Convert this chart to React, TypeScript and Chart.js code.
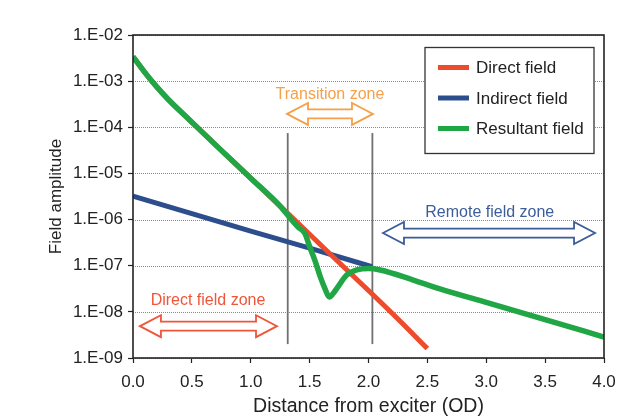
import React, { useEffect, useRef } from 'react';
import { Chart, registerables } from 'chart.js';

Chart.register(...registerables);

// ---- Data ----
const directX = [0, 0.1, 0.2, 0.3, 0.5, 0.75, 1.0, 1.25, 1.5, 1.75, 2.0, 2.25, 2.5];
const directY = [3.39e-3, 1.55e-3, 7.6e-4, 4.0e-4, 1.29e-4, 3.16e-5, 7.9e-6, 1.95e-6, 4.8e-7, 1.17e-7, 2.9e-8, 7.0e-9, 1.6e-9];

const indirectX = [0, 0.5, 1.0, 1.5, 2.03];
const indirectY = [3.2e-6, 1.35e-6, 5.6e-7, 2.4e-7, 9.5e-8];

const resultantX = [0, 0.1, 0.2, 0.3, 0.5, 0.75, 1.0, 1.25, 1.342, 1.40, 1.46, 1.5, 1.55, 1.59, 1.63, 1.667, 1.7, 1.73, 1.815, 1.9, 2.0, 2.1, 2.38, 2.6, 3.0, 3.5, 4.0];
const resultantY = [3.39e-3, 1.55e-3, 7.6e-4, 4.0e-4, 1.29e-4, 3.16e-5, 7.9e-6, 1.95e-6, 1.02e-6, 7.0e-7, 5.0e-7, 2.6e-7, 1.2e-7, 5.8e-8, 3.2e-8, 2.1e-8, 2.5e-8, 3.2e-8, 6.3e-8, 8.1e-8, 8.7e-8, 8.1e-8, 4.9e-8, 3.2e-8, 1.6e-8, 6.8e-9, 2.85e-9];

const seriesNames = ['Direct field', 'Indirect field', 'Resultant field'];
const seriesColors = ['#EE4A2C', '#2C4E8D', '#21A646'];

const yTickValues = [1e-9, 1e-8, 1e-7, 1e-6, 1e-5, 1e-4, 1e-3, 1e-2];
const yTickLabels = ['1.E-09', '1.E-08', '1.E-07', '1.E-06', '1.E-05', '1.E-04', '1.E-03', '1.E-02'];
const xTickLabels = ['0.0', '0.5', '1.0', '1.5', '2.0', '2.5', '3.0', '3.5', '4.0'];

// zone annotations (data coordinates)
const zoneTexts = ['Transition zone', 'Remote field zone', 'Direct field zone'];
const zoneTextX = [1.673, 3.03, 0.637];
const zoneTextY = [5.0e-4, 1.45e-6, 1.72e-8];
const zoneColors = ['#F5A04A', '#3B5D9A', '#F0553A'];
const zoneArrowX0 = [1.308, 2.123, 0.059];
const zoneArrowX1 = [2.038, 3.924, 1.223];
const zoneArrowY = [1.95e-4, 5.1e-7, 4.9e-9];

const boundaryX = [1.314, 2.033];
const boundaryTop = 7.5e-5;
const boundaryBottom = 2.0e-9;

const FONT = '"Liberation Sans", Arial, Helvetica, sans-serif';
const INK = '#222222';

function toPoints(xs: number[], ys: number[]) {
  return xs.map((x, i) => ({ x, y: ys[i] }));
}

function drawDoubleArrow(ctx: CanvasRenderingContext2D, x0: number, x1: number, y: number, color: string) {
  const sh = 4.5; // shaft half height
  const hh = 11; // head half height
  const hl = 21; // head length
  ctx.save();
  ctx.beginPath();
  ctx.moveTo(x0, y);
  ctx.lineTo(x0 + hl, y - hh);
  ctx.lineTo(x0 + hl, y - sh);
  ctx.lineTo(x1 - hl, y - sh);
  ctx.lineTo(x1 - hl, y - hh);
  ctx.lineTo(x1, y);
  ctx.lineTo(x1 - hl, y + hh);
  ctx.lineTo(x1 - hl, y + sh);
  ctx.lineTo(x0 + hl, y + sh);
  ctx.lineTo(x0 + hl, y + hh);
  ctx.closePath();
  ctx.fillStyle = '#ffffff';
  ctx.fill();
  ctx.lineWidth = 1.8;
  ctx.lineJoin = 'miter';
  ctx.strokeStyle = color;
  ctx.stroke();
  ctx.restore();
}

const decorPlugin = {
  id: 'decor',
  beforeDatasetsDraw(chart: any) {
    const { ctx, chartArea, scales } = chart;
    const xs = scales.x;
    const ys = scales.y;
    ctx.save();
    // dotted horizontal grid lines
    ctx.strokeStyle = '#8a8a8a';
    ctx.lineWidth = 1;
    ctx.setLineDash([1, 1]);
    yTickValues.forEach((v) => {
      const py = Math.round(ys.getPixelForValue(v)) + 0.5;
      ctx.beginPath();
      ctx.moveTo(chartArea.left, py);
      ctx.lineTo(chartArea.right, py);
      ctx.stroke();
    });
    ctx.setLineDash([]);
    // zone boundary lines
    ctx.strokeStyle = '#707070';
    ctx.lineWidth = 1.8;
    boundaryX.forEach((bx) => {
      const px = xs.getPixelForValue(bx);
      ctx.beginPath();
      ctx.moveTo(px, ys.getPixelForValue(boundaryTop));
      ctx.lineTo(px, ys.getPixelForValue(boundaryBottom));
      ctx.stroke();
    });
    ctx.restore();
  },
  afterDatasetsDraw(chart: any) {
    const { ctx, chartArea, scales } = chart;
    const xs = scales.x;
    const ys = scales.y;
    ctx.save();
    // zone arrows & texts
    zoneTexts.forEach((t, i) => {
      drawDoubleArrow(
        ctx,
        xs.getPixelForValue(zoneArrowX0[i]),
        xs.getPixelForValue(zoneArrowX1[i]),
        ys.getPixelForValue(zoneArrowY[i]),
        zoneColors[i]
      );
      ctx.fillStyle = zoneColors[i];
      ctx.font = `16px ${FONT}`;
      ctx.textAlign = 'center';
      ctx.textBaseline = 'middle';
      ctx.fillText(t, xs.getPixelForValue(zoneTextX[i]), ys.getPixelForValue(zoneTextY[i]));
    });

    // legend box
    const lx0 = chartArea.right - 179;
    const ly0 = chartArea.top + 12.5;
    const lw = 169;
    const lh = 106;
    ctx.fillStyle = '#ffffff';
    ctx.fillRect(lx0, ly0, lw, lh);
    ctx.strokeStyle = '#333333';
    ctx.lineWidth = 1.3;
    ctx.strokeRect(lx0, ly0, lw, lh);
    seriesNames.forEach((name, i) => {
      const ry = ly0 + 20 + i * 30.5;
      ctx.strokeStyle = seriesColors[i];
      ctx.lineWidth = 5;
      ctx.lineCap = 'butt';
      ctx.beginPath();
      ctx.moveTo(lx0 + 13, ry);
      ctx.lineTo(lx0 + 44, ry);
      ctx.stroke();
      ctx.fillStyle = INK;
      ctx.font = `17px ${FONT}`;
      ctx.textAlign = 'left';
      ctx.textBaseline = 'middle';
      ctx.fillText(name, lx0 + 51, ry + 1);
    });
    ctx.restore();
  },
  afterDraw(chart: any) {
    const { ctx, chartArea } = chart;
    ctx.save();
    ctx.strokeStyle = INK;
    ctx.lineWidth = 1.6;
    ctx.strokeRect(chartArea.left, chartArea.top, chartArea.right - chartArea.left, chartArea.bottom - chartArea.top);
    ctx.restore();
  },
};

export default function App() {
  const ref = useRef<HTMLCanvasElement | null>(null);
  useEffect(() => {
    if (!ref.current) return;
    Chart.defaults.font.family = FONT;
    const chart = new Chart(ref.current, {
      type: 'line',
      data: {
        datasets: [
          {
            label: seriesNames[0],
            data: toPoints(directX, directY),
            borderColor: seriesColors[0],
            borderWidth: 5,
            pointRadius: 0,
            cubicInterpolationMode: 'monotone',
            order: 1,
          },
          {
            label: seriesNames[1],
            data: toPoints(indirectX, indirectY),
            borderColor: seriesColors[1],
            borderWidth: 5,
            pointRadius: 0,
            tension: 0,
            order: 2,
          },
          {
            label: seriesNames[2],
            data: toPoints(resultantX, resultantY),
            borderColor: seriesColors[2],
            borderWidth: 5.5,
            pointRadius: 0,
            cubicInterpolationMode: 'monotone',
            order: 0,
          },
        ],
      },
      options: {
        animation: false,
        responsive: false,
        layout: { padding: { left: 0, right: 21, top: 35, bottom: 0 } },
        plugins: { legend: { display: false }, tooltip: { enabled: false } },
        scales: {
          x: {
            type: 'linear',
            min: 0,
            max: 4,
            afterFit: (s: any) => {
              s.height = 60;
            },
            afterBuildTicks: (s: any) => {
              s.ticks = xTickLabels.map((l) => ({ value: parseFloat(l) }));
            },
            ticks: {
              color: INK,
              font: { size: 17 },
              padding: 9,
              maxRotation: 0,
              callback: (v: any) => {
                const i = xTickLabels.findIndex((l) => Math.abs(parseFloat(l) - v) < 1e-9);
                return i >= 0 ? xTickLabels[i] : '';
              },
            },
            grid: {
              display: true,
              drawOnChartArea: false,
              drawTicks: true,
              tickLength: 5,
              tickColor: INK,
              tickWidth: 1.2,
              color: INK,
            },
            border: { display: false },
            title: {
              display: true,
              text: 'Distance from exciter (OD)',
              color: INK,
              font: { size: 19.5 },
              padding: { top: 0, bottom: 0 },
            },
          },
          y: {
            type: 'logarithmic',
            min: 1e-9,
            max: 1e-2,
            afterFit: (s: any) => {
              s.width = 133;
            },
            afterBuildTicks: (s: any) => {
              s.ticks = yTickValues.map((v) => ({ value: v }));
            },
            ticks: {
              color: INK,
              font: { size: 17 },
              padding: 5,
              autoSkip: false,
              callback: (v: any) => {
                const i = Math.round(Math.log10(v)) + 9;
                return yTickLabels[i] ?? '';
              },
            },
            grid: {
              display: true,
              drawOnChartArea: false,
              drawTicks: true,
              tickLength: 5,
              tickColor: INK,
              tickWidth: 1.2,
              color: INK,
            },
            border: { display: false },
            title: {
              display: true,
              text: 'Field amplitude',
              color: INK,
              font: { size: 17 },
              padding: { top: 46, bottom: 0 },
            },
          },
        },
      },
      plugins: [decorPlugin],
    } as any);
    return () => chart.destroy();
  }, []);
  return (
    <div style={{ position: 'fixed', left: 0, top: 0, width: 625, height: 418, background: '#fff' }}>
      <canvas ref={ref} width={625} height={418} style={{ display: 'block', width: 625, height: 418 }} />
    </div>
  );
}
